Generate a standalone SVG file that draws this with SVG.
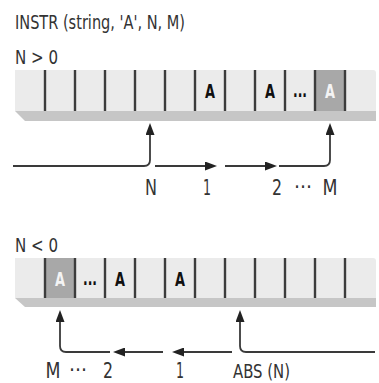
<svg xmlns="http://www.w3.org/2000/svg" width="379" height="383" viewBox="0 0 379 383">
<style>
.t{font-family:"DejaVu Sans Condensed","DejaVu Sans","Liberation Sans",sans-serif;fill:#333;font-size:20px}
.lb{font-family:"DejaVu Sans Condensed","DejaVu Sans","Liberation Sans",sans-serif;fill:#333;font-size:21px;text-anchor:middle}
.a{font-family:"DejaVu Sans Condensed","DejaVu Sans","Liberation Sans",sans-serif;font-weight:bold;font-size:20px;text-anchor:middle;fill:#111}
.aw{fill:#f4f4f4}
.face{fill:#ebebeb}
.shadow{fill:#c6c6c6}
.hl{fill:#a8a8a8}
.div{stroke:#3c3c3c;stroke-width:2.4}
.conn{fill:none;stroke:#3a3a3a;stroke-width:1.8}
</style>
<defs>
<marker id="ah" markerUnits="userSpaceOnUse" markerWidth="12" markerHeight="9" refX="9" refY="4.5" orient="auto">
<path d="M0,0 L12,4.5 L0,9 z" fill="#222"/>
</marker>
</defs>

<g id="title"><text class="t" x="15" y="29" textLength="170" lengthAdjust="spacingAndGlyphs">INSTR (string, 'A', N, M)</text></g>

<g id="label-pos"><text class="t" x="15" y="64" textLength="43" lengthAdjust="spacingAndGlyphs">N &gt; 0</text></g>

<g id="bar-top">
<polygon class="shadow" points="15,111 25,121 376,121 376,111"/>
<path class="face" d="M15,70 H373 Q376,70 376,73 V111 H15 Z"/>
<rect class="hl" x="315" y="70" width="30" height="41"/>
<g class="div">
<line x1="45" y1="70" x2="45" y2="111"/><line x1="75" y1="70" x2="75" y2="111"/><line x1="105" y1="70" x2="105" y2="111"/><line x1="135" y1="70" x2="135" y2="111"/><line x1="165" y1="70" x2="165" y2="111"/><line x1="195" y1="70" x2="195" y2="111"/><line x1="225" y1="70" x2="225" y2="111"/><line x1="255" y1="70" x2="255" y2="111"/><line x1="285" y1="70" x2="285" y2="111"/><line x1="315" y1="70" x2="315" y2="111"/><line x1="345" y1="70" x2="345" y2="111"/>
</g>
<text class="a" x="210" y="98" textLength="10" lengthAdjust="spacingAndGlyphs">A</text>
<text class="a" x="270" y="98" textLength="10" lengthAdjust="spacingAndGlyphs">A</text>
<text class="a" x="300" y="97" textLength="14" lengthAdjust="spacingAndGlyphs">...</text>
<text class="a aw" x="330" y="98" textLength="10" lengthAdjust="spacingAndGlyphs">A</text>
</g>

<g id="labels-top">
<text class="lb" x="151" y="195" textLength="12" lengthAdjust="spacingAndGlyphs">N</text>
<text class="lb" x="207" y="195" textLength="8" lengthAdjust="spacingAndGlyphs">1</text>
<text class="lb" x="277" y="195" textLength="10" lengthAdjust="spacingAndGlyphs">2</text>
<text class="lb" x="303" y="194" font-size="12">···</text>
<text class="lb" x="330" y="195" textLength="15" lengthAdjust="spacingAndGlyphs">M</text>
</g>

<g id="label-neg"><text class="t" x="15" y="252" textLength="43" lengthAdjust="spacingAndGlyphs">N &lt; 0</text></g>

<g id="bar-bottom">
<polygon class="shadow" points="15,298 25,307 376,307 376,298"/>
<path class="face" d="M15,258 H373 Q376,258 376,261 V298 H15 Z"/>
<rect class="hl" x="45" y="258" width="30" height="40"/>
<g class="div">
<line x1="45" y1="258" x2="45" y2="298"/><line x1="75" y1="258" x2="75" y2="298"/><line x1="105" y1="258" x2="105" y2="298"/><line x1="135" y1="258" x2="135" y2="298"/><line x1="165" y1="258" x2="165" y2="298"/><line x1="195" y1="258" x2="195" y2="298"/><line x1="225" y1="258" x2="225" y2="298"/><line x1="255" y1="258" x2="255" y2="298"/><line x1="285" y1="258" x2="285" y2="298"/><line x1="315" y1="258" x2="315" y2="298"/><line x1="345" y1="258" x2="345" y2="298"/>
</g>
<text class="a aw" x="60" y="286" textLength="10" lengthAdjust="spacingAndGlyphs">A</text>
<text class="a" x="90" y="285" textLength="14" lengthAdjust="spacingAndGlyphs">...</text>
<text class="a" x="120" y="286" textLength="10" lengthAdjust="spacingAndGlyphs">A</text>
<text class="a" x="180" y="286" textLength="10" lengthAdjust="spacingAndGlyphs">A</text>
</g>

<g id="labels-bottom">
<text class="lb" x="53" y="378" font-size="20" textLength="15" lengthAdjust="spacingAndGlyphs">M</text>
<text class="lb" x="78" y="377" font-size="12">···</text>
<text class="lb" x="108" y="378" font-size="20" textLength="10" lengthAdjust="spacingAndGlyphs">2</text>
<text class="lb" x="180" y="378" font-size="20" textLength="8" lengthAdjust="spacingAndGlyphs">1</text>
<text class="t" x="233" y="378" textLength="57" lengthAdjust="spacingAndGlyphs">ABS (N)</text>
</g>

<g id="connectors">
<path class="conn" marker-end="url(#ah)" d="M13,166 H144 Q150,166 150,160 V126"/>
<path class="conn" marker-end="url(#ah)" d="M155,166 H214"/>
<path class="conn" marker-end="url(#ah)" d="M225,166 H274"/>
<path class="conn" marker-end="url(#ah)" d="M279,166 H324 Q330,166 330,160 V126"/>
<path class="conn" marker-end="url(#ah)" d="M375,352 H246 Q240,352 240,346 V313"/>
<path class="conn" marker-end="url(#ah)" d="M232,352 H175"/>
<path class="conn" marker-end="url(#ah)" d="M163,352 H116"/>
<path class="conn" marker-end="url(#ah)" d="M110,352 H66 Q60,352 60,346 V313"/>
</g>
</svg>
